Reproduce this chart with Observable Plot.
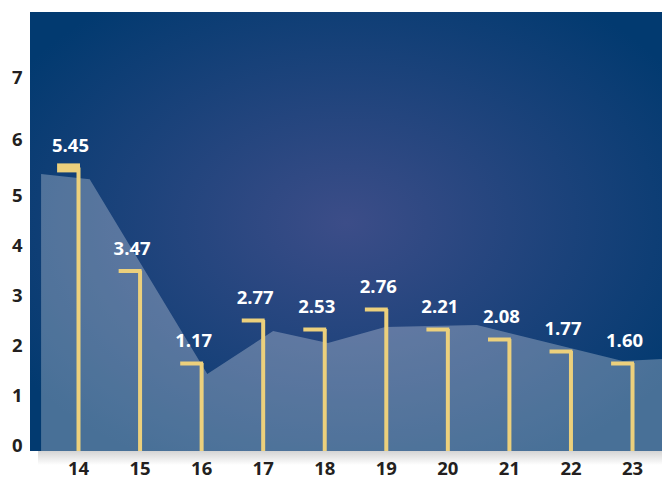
<!DOCTYPE html>
<html>
<head>
<meta charset="utf-8">
<script src="https://cdn.jsdelivr.net/npm/d3@7"></script>
<script src="https://cdn.jsdelivr.net/npm/@observablehq/plot@0.6"></script>
<style>
  html, body { margin: 0; padding: 0; background: #ffffff; }
  #chart { width: 662px; height: 479px; }
</style>
</head>
<body>
<div id="chart"></div>
<script>
// ---- data ----
const years = [14, 15, 16, 17, 18, 19, 20, 21, 22, 23];
const valueLabels = ["5.45", "3.47", "1.17", "2.77", "2.53", "2.76", "2.21", "2.08", "1.77", "1.60"];
const flagLevels = [5.60, 3.61, 1.76, 2.62, 2.44, 2.84, 2.44, 2.24, 2.00, 1.76];
const areaX = [13.40, 14.19, 16.10, 17.17, 18.06, 18.99, 20.48, 22.85, 23.49];
const areaY = [5.48, 5.39, 1.54, 2.40, 2.16, 2.48, 2.52, 1.80, 1.84];
const yTicks = [0, 1, 2, 3, 4, 5, 6, 7];

const flags = years.map((year, i) => ({year, level: flagLevels[i], label: valueLabels[i], first: i === 0}));
const area = areaX.map((x, i) => ({x, y: areaY[i]}));

// the original axis is stretched above 5 (6 and 7 sit further apart)
const warp = v => v <= 5 ? v : v <= 6 ? 5 + (v - 5) * 1.12 : 6.12 + (v - 6) * 1.24;

const gold = "#ecd07c";
const font = "'Open Sans', 'Noto Sans', sans-serif";

function background(index, scales, values, dim) {
  const g = d3.create("svg:g");
  const defs = g.append("defs");
  const rg = defs.append("radialGradient").attr("id", "bgGrad")
    .attr("cx", "50%").attr("cy", "48%").attr("r", "62%");
  rg.append("stop").attr("offset", "0%").attr("stop-color", "#3c4d88");
  rg.append("stop").attr("offset", "100%").attr("stop-color", "#023a70");
  const lg = defs.append("linearGradient").attr("id", "floorGrad")
    .attr("x1", 0).attr("y1", 0).attr("x2", 0).attr("y2", 1);
  lg.append("stop").attr("offset", "0%").attr("stop-color", "#d4d4d4");
  lg.append("stop").attr("offset", "100%").attr("stop-color", "#ffffff");
  const x0 = dim.marginLeft, x1 = dim.width - dim.marginRight;
  const y0 = dim.marginTop, y1 = dim.height - dim.marginBottom;
  g.append("rect").attr("x", x0).attr("y", y0).attr("width", x1 - x0).attr("height", y1 - y0)
    .attr("fill", "url(#bgGrad)");
  g.append("rect").attr("x", x0 + 8).attr("y", y1).attr("width", x1 - x0 - 8).attr("height", 14)
    .attr("fill", "url(#floorGrad)");
  return g.node();
}

const chart = Plot.plot({
  width: 662,
  height: 479,
  marginLeft: 30,
  marginRight: 0,
  marginTop: 12,
  marginBottom: 28,
  x: {domain: [13.22, 23.487], axis: null},
  y: {type: "linear", transform: warp, domain: [0, 8.78], axis: null},
  style: {fontFamily: font, background: "#ffffff", overflow: "visible"},
  marks: [
    background,
    Plot.areaY(area, {x: "x", y: "y", fill: "#ffffff", fillOpacity: 0.28}),
    Plot.ruleX(flags, {x: "year", y1: 0, y2: "level", stroke: gold, strokeWidth: 4}),
    Plot.ruleY(flags, {
      y: "level",
      x1: d => d.year - 0.34,
      x2: d => d.year + 0.032,
      stroke: gold,
      strokeWidth: d => d.first ? 9 : 4
    }),
    Plot.text(flags, {
      x: "year", y: "level", text: "label", dx: -8, dy: -22,
      fill: "#ffffff", fontWeight: "bold", fontSize: 18.5
    }),
    Plot.axisX(years, {
      tickSize: 0, tickPadding: 10, tickFormat: d => String(d),
      fontSize: 18.5, fontWeight: "bold", fill: "#231f20"
    }),
    Plot.axisY(yTicks, {
      tickSize: 0, tickPadding: 8, tickFormat: d => String(d), dy: -5,
      fontSize: 18.5, fontWeight: "bold", fill: "#231f20"
    })
  ]
});

document.getElementById("chart").appendChild(chart);
</script>
</body>
</html>
